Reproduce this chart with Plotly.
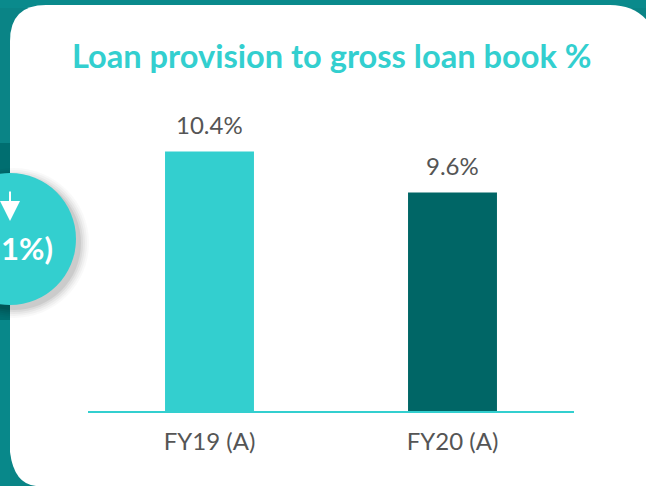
import plotly.graph_objects as go

categories = ["FY19 (A)", "FY20 (A)"]
values = [10.4, 9.6]
labels = ["10.4%", "9.6%"]
bar_colors = ["#33CFCF", "#006666"]

W, H = 646, 486
L, R, T, B = 88, 574, 90, 411
TEAL = "#33CFCF"
TEXT = "#555555"


def px(x):
    return (x - L) / (R - L)


def py(y):
    return (B - y) / (B - T)


fig = go.Figure(
    go.Bar(
        x=categories,
        y=values,
        width=0.366,
        marker=dict(color=bar_colors, line=dict(width=0)),
        hoverinfo="skip",
    )
)


def rect(x0, y0, x1, y1, color, layer="below"):
    fig.add_shape(type="rect", xref="paper", yref="paper", x0=px(x0), x1=px(x1), y0=py(y0), y1=py(y1),
                  fillcolor=color, line_width=0, layer=layer)


# page background bands
rect(0, 0, 646, 8, "#0A8A8C")
rect(0, 8, 10, 143, "#0A8486")
rect(0, 143, 10, 320, "#006E70")
rect(0, 320, 10, 486, "#08888A")

# white rounded card
r = 36
card = (
    f"M {px(10)} {py(5 + r)} Q {px(10)} {py(5)} {px(10 + r)} {py(5)} "
    f"L {px(610)} {py(5)} Q {px(636)} {py(5)} {px(650)} {py(24)} "
    f"L {px(650)} {py(490)} L {px(36)} {py(486)} Q {px(14)} {py(484)} {px(10)} {py(452)} Z"
)
fig.add_shape(type="path", xref="paper", yref="paper", path=card, fillcolor="#FFFFFF", line_width=0, layer="below")

# callout circle with soft shadow
for grow, alpha in [(9, 0.025), (7, 0.03), (5, 0.04), (3, 0.05), (1, 0.07)]:
    fig.add_shape(type="circle", xref="paper", yref="paper",
                  x0=px(-52 - grow), x1=px(80 + grow), y0=py(177 - grow), y1=py(309 + grow),
                  fillcolor=f"rgba(0,0,0,{alpha})", line_width=0, layer="below")
fig.add_shape(type="circle", xref="paper", yref="paper",
              x0=px(-56), x1=px(76), y0=py(173), y1=py(305),
              fillcolor=TEAL, line_width=0, layer="below")

annotations = [
    dict(text="<b>Loan provision to gross loan book %</b>", xref="paper", yref="paper",
         x=px(331), y=py(55.5), xanchor="center", yanchor="middle", showarrow=False,
         font=dict(family="Lato", size=32.6, color=TEAL)),
    dict(text="<b>1%)</b>", xref="paper", yref="paper", x=px(54.5), y=py(248),
         xanchor="right", yanchor="middle", showarrow=False,
         font=dict(family="Lato", size=31, color="#FFFFFF")),
    dict(text="", xref="paper", yref="paper", axref="pixel", ayref="pixel", x=px(10), y=py(221),
         ax=0, ay=-31, showarrow=True, arrowhead=2, arrowsize=2, arrowwidth=2, arrowcolor="#FFFFFF"),
]
for cat, val, lab in zip(categories, values, labels):
    annotations.append(dict(text=lab, x=cat, y=val, xref="x", yref="y", showarrow=False,
                            xanchor="center", yanchor="bottom", yshift=10,
                            font=dict(family="Lato", size=24, color=TEXT)))

fig.update_layout(
    width=W, height=H,
    margin=dict(l=L, r=W - R, t=T, b=H - B, pad=0),
    paper_bgcolor="#0A8486",
    plot_bgcolor="rgba(0,0,0,0)",
    showlegend=False,
    annotations=annotations,
    xaxis=dict(
        type="category", range=[-0.5, 1.5], showgrid=False, zeroline=False, ticks="",
        showline=True, linecolor=TEAL, linewidth=2, ticklabelstandoff=8,
        tickfont=dict(family="Lato", size=24, color=TEXT),
    ),
    yaxis=dict(range=[5.33, 11.6], visible=False, showgrid=False, zeroline=False),
)

fig.write_html("out.html", config={"displayModeBar": False},
               post_script="document.body.style.margin='0';document.documentElement.style.overflow='hidden';window.dispatchEvent(new Event('resize'));")
